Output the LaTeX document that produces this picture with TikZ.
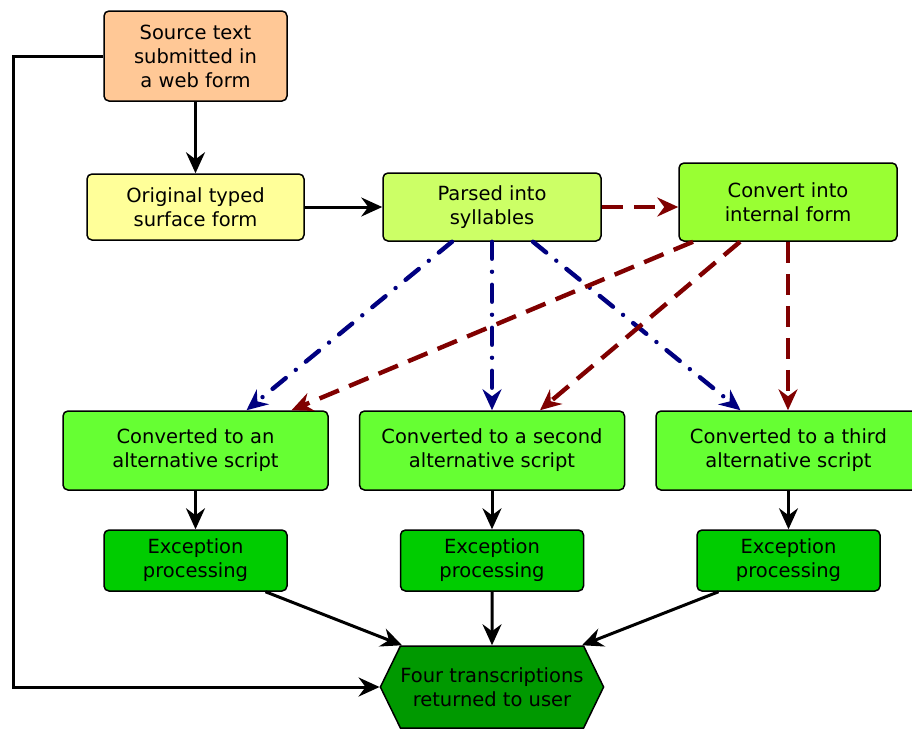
\documentclass[tikz,border=0pt]{standalone}
\usepackage{fontspec}
\setmainfont{DejaVu Sans}
\usetikzlibrary{arrows.meta,shapes.symbols}
\definecolor{peach}{HTML}{FFC896}
\definecolor{paleyellow}{HTML}{FFFF99}
\definecolor{limegreen}{HTML}{CCFF66}
\definecolor{brightgreen}{HTML}{99FF33}
\definecolor{scriptgreen}{HTML}{66FF33}
\definecolor{excgreen}{HTML}{00CC00}
\definecolor{darkgreen}{HTML}{009900}
\definecolor{darkred}{HTML}{800000}
\definecolor{navyblue}{HTML}{000080}
\begin{document}
\begin{tikzpicture}[x=1pt,y=-1pt,
  every node/.style = {align=center, font=\fontsize{19.5}{24}\selectfont},
  box/.style = {shape=rectangle, rounded corners=5pt, draw, line width=1.5pt,
    inner sep=0pt},
  flow/.style = {line width=3pt, -{Stealth[length=21pt,width=19pt,inset=7pt]}},
  redflow/.style = {flow, darkred, line width=4.4pt, dash pattern=on 21pt off 11pt},
  blueflow/.style = {flow, navyblue, line width=4.4pt, line cap=round,
    dash pattern=on 17pt off 13pt on 0pt off 13pt}]
  \useasboundingbox (0,0) rectangle (912,729);
  \node[box, fill=peach, minimum width=183pt, minimum height=90pt] (src) at (195.5,56)
    {Source text\\submitted in\\a web form};
  \node[box, fill=paleyellow, minimum width=217pt, minimum height=66pt] (orig) at (195.5,207)
    {Original typed\\surface form};
  \node[box, fill=limegreen, minimum width=218pt, minimum height=68pt] (pars) at (492,207)
    {Parsed into\\syllables};
  \node[box, fill=brightgreen, minimum width=218pt, minimum height=78pt] (conv) at (788,202)
    {Convert into\\internal form};
  \node[box, fill=scriptgreen, minimum width=265pt, minimum height=79pt] (alt1) at (195.5,450.5)
    {Converted to an\\alternative script};
  \node[box, fill=scriptgreen, minimum width=265pt, minimum height=79pt] (alt2) at (492,450.5)
    {Converted to a second\\alternative script};
  \node[box, fill=scriptgreen, minimum width=265pt, minimum height=79pt] (alt3) at (788.5,450.5)
    {Converted to a third\\alternative script};
  \node[box, fill=excgreen, minimum width=183pt, minimum height=61pt] (exc1) at (195.5,560.5)
    {Exception\\processing};
  \node[box, fill=excgreen, minimum width=183pt, minimum height=61pt] (exc2) at (492,560.5)
    {Exception\\processing};
  \node[box, fill=excgreen, minimum width=183pt, minimum height=61pt] (exc3) at (788.5,560.5)
    {Exception\\processing};
  \node[draw, line width=1.5pt, fill=darkgreen, shape=signal, signal to=west and east,
    signal pointer angle=128, minimum width=220pt, minimum height=82pt, inner sep=0pt]
    (four) at (492,687) {Four transcriptions\\returned to user};
  \coordinate (corner) at (13,56);

  % main line
  \draw[flow] (src) -- (orig);
  \draw[flow] (orig) -- (pars);
  \draw[redflow] (pars) -- (conv.west |- pars.east);
  % syllables to scripts
  \draw[blueflow] ([xshift=-40pt]pars.south) -- ([xshift=51pt]alt1.north);
  \draw[blueflow] (pars.south) -- (alt2.north);
  \draw[blueflow] ([xshift=41pt]pars.south) -- ([xshift=-48pt]alt3.north);
  % internal form to scripts
  \draw[redflow] ([xshift=-95pt]conv.south) -- ([xshift=96pt]alt1.north);
  \draw[redflow] ([xshift=-48pt]conv.south) -- ([xshift=48pt]alt2.north);
  \draw[redflow] (conv.south) -- (alt3.north -| conv.south);
  % exceptions
  \draw[flow] (alt1) -- (exc1);
  \draw[flow] (alt2) -- (exc2);
  \draw[flow] (alt3) -- (exc3);
  \draw[flow] ([xshift=70pt]exc1.south) -- ([xshift=-90pt]four.north);
  \draw[flow] (exc2) -- (four);
  \draw[flow] ([xshift=-70pt]exc3.south) -- ([xshift=90pt]four.north);
  \draw[flow] (src.west) -- (corner) |- (four.west);
\end{tikzpicture}
\end{document}
